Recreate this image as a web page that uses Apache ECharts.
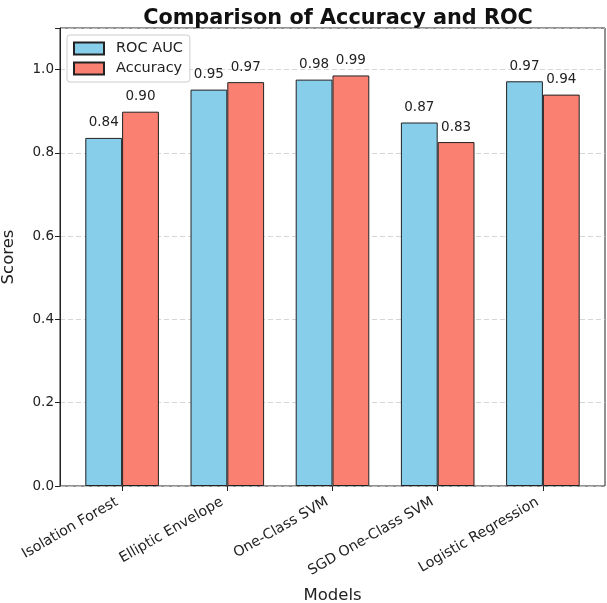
<!DOCTYPE html>
<html>
<head>
<meta charset="utf-8">
<script src="https://cdn.jsdelivr.net/npm/echarts@6/dist/echarts.min.js"></script>
<style>html,body{margin:0;padding:0;background:#fff}#c{width:607px;height:603px}</style>
</head>
<body>
<div id="c"></div>
<script>
const categories = ['Isolation Forest', 'Elliptic Envelope', 'One-Class SVM', 'SGD One-Class SVM', 'Logistic Regression'];
const rocAuc = [0.836, 0.952, 0.976, 0.873, 0.972];
const accuracy = [0.899, 0.970, 0.986, 0.826, 0.940];
const yTicks = [0.0, 0.2, 0.4, 0.6, 0.8, 1.0];

const FONT = 'DejaVu Sans';
const chart = echarts.init(document.getElementById('c'));
const labelOpt = {
  show: true, position: 'top', distance: 8,
  color: '#222', fontFamily: FONT, fontSize: 13.5,
  formatter: p => p.value.toFixed(2)
};
chart.setOption({
  animation: false,
  textStyle: { fontFamily: FONT },
  title: {
    text: 'Comparison of Accuracy and ROC',
    left: 333, top: 3, textAlign: 'center',
    textStyle: { fontFamily: FONT, fontWeight: 'bold', fontSize: 20.8, color: '#111' }
  },
  legend: {
    orient: 'vertical', left: 67, top: 35,
    icon: 'rect',
    itemWidth: 30, itemHeight: 12, itemGap: 5,
    padding: [6, 7, 6, 6],
    borderColor: '#ccc', borderWidth: 1, borderRadius: 3,
    backgroundColor: 'rgba(255,255,255,0.85)',
    textStyle: { fontFamily: FONT, fontSize: 14.5, color: '#222', padding: [0, 0, 0, 7] },
    data: ['ROC AUC', 'Accuracy']
  },
  grid: [
    { left: 60, right: 2, top: 28, bottom: 117, containLabel: false, outerBoundsMode: 'none',
      show: true, borderColor: '#222', borderWidth: 1, backgroundColor: 'transparent' },
    { left: 69.5, right: 11.5, top: 28, bottom: 117, containLabel: false, outerBoundsMode: 'none' }
  ],
  xAxis: [
    { gridIndex: 0, type: 'value', min: 0, max: 1, show: false },
    {
      gridIndex: 1, type: 'category', data: categories,
      axisLine: { show: false },
      axisTick: { show: true, alignWithLabel: true, length: 5, lineStyle: { color: '#222' } },
      axisLabel: { rotate: 30, fontFamily: FONT, fontSize: 14.2, color: '#222', margin: 12, interval: 0,
        padding: [0, 6, 0, 0] },
      name: 'Models', nameLocation: 'middle', nameGap: 101,
      nameTextStyle: { fontFamily: FONT, fontSize: 16.5, color: '#222' }
    }
  ],
  yAxis: [
    {
      gridIndex: 0, type: 'value', min: 0, max: 1.1, interval: 0.2,
      axisLine: { show: true, lineStyle: { color: '#222' } },
      axisTick: { show: true, length: 5, lineStyle: { color: '#222' } },
      axisLabel: { fontFamily: FONT, fontSize: 13.5, color: '#222', margin: 6,
        formatter: v => yTicks.some(t => Math.abs(t - v) < 1e-6) ? v.toFixed(1) : '' },
      splitLine: { show: true, lineStyle: { color: '#ccc', type: [5, 3], width: 0.8 } },
      name: 'Scores', nameLocation: 'middle', nameGap: 43,
      nameTextStyle: { fontFamily: FONT, fontSize: 16.5, color: '#222' }
    },
    { gridIndex: 1, type: 'value', min: 0, max: 1.1, show: false }
  ],
  series: [
    {
      name: 'ROC AUC', type: 'bar', xAxisIndex: 1, yAxisIndex: 1,
      data: rocAuc, barWidth: 36.8, barGap: '0%',
      itemStyle: { color: '#87CEEB', borderColor: '#222', borderWidth: 1 },
      label: labelOpt
    },
    {
      name: 'Accuracy', type: 'bar', xAxisIndex: 1, yAxisIndex: 1,
      data: accuracy, barWidth: 36.8, barGap: '0%',
      itemStyle: { color: '#FA8072', borderColor: '#222', borderWidth: 1 },
      label: labelOpt
    }
  ]
});
</script>
</body>
</html>
